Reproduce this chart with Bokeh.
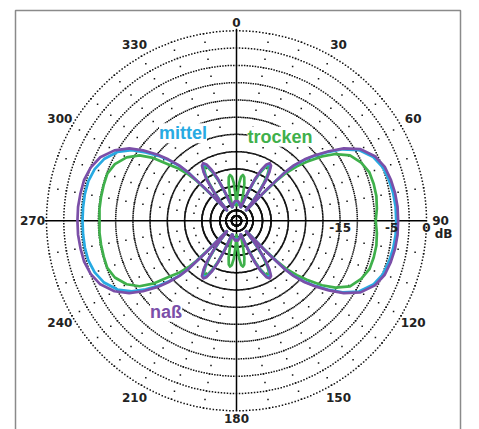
import numpy as np
from bokeh.plotting import figure
from bokeh.models import Range1d, ColumnDataSource, Label
from bokeh.core.properties import value
from bokeh.embed import file_html
from bokeh.resources import INLINE

# ---------------- data ----------------
# angle off the vertical (0/180) axis, one quadrant, degrees
PHI = [0, 2, 4, 6, 8, 10, 12, 14, 16, 18, 20, 22, 24, 26, 28, 30, 32, 34, 36, 38,
       40, 42, 43, 44, 45, 46, 48, 50, 53, 56, 60, 65, 70, 75, 80, 85, 90]

# naß (wet ground) – right half / left half, dB
nass_right = [-57, -56, -56, -57, -58, -59, -60, -62, -64, -64, -55, -44, -35, -30, -27, -26, -26.5, -29, -33, -40,
              -50, -64, -64, -36, -25, -21.5, -18, -15.5, -12.3, -9.5, -7.0, -5.4, -4.6, -4.3, -4.1, -4.0, -4.0]
nass_left = [-57, -56, -56, -57, -58, -59, -60, -62, -64, -64, -55, -44, -35, -30, -27, -26, -26.5, -29, -33, -40,
             -50, -64, -64, -36, -25, -21.5, -18, -15.2, -12.0, -9.5, -7.4, -5.8, -5.0, -4.6, -4.5, -4.4, -4.4]
# mittel (medium ground)
mittel_right = [-58, -57, -57, -58, -59, -60, -61, -63, -64, -64, -56, -45, -35.5, -30.5, -27.5, -26.5, -27, -29.5, -33.5, -40.5,
                -51, -64, -64, -37, -25.5, -22, -18.4, -15.8, -12.6, -9.8, -7.3, -5.7, -4.9, -4.6, -4.4, -4.3, -4.3]
mittel_left = [-58, -57, -57, -58, -59, -60, -61, -63, -64, -64, -56, -45, -35.5, -30.5, -27.5, -26.5, -27, -29.5, -33.5, -40.5,
               -51, -64, -64, -37, -25.5, -22, -18.5, -15.8, -12.7, -10.1, -8.0, -6.5, -5.7, -5.3, -5.2, -5.2, -5.2]
# trocken (dry ground)
trocken_right = [-64, -50, -40, -36, -35, -36, -40, -48, -60, -64, -56, -46, -37, -31.5, -28.5, -27.5, -28, -30.5, -35, -42,
                 -52, -64, -64, -40, -30, -25, -21, -18, -14.2, -11.5, -9.2, -8.0, -7.3, -7.2, -7.2, -7.4, -7.7]
trocken_left = [-64, -50, -40, -36, -35, -36, -40, -48, -60, -64, -56, -46, -37, -31.5, -28.5, -27.5, -28, -30.5, -35, -42,
                -52, -64, -64, -40, -30, -26, -22, -19.5, -14.8, -12.0, -10.0, -8.6, -8.0, -8.0, -8.0, -8.0, -8.1]

SERIES = ["trocken", "mittel", "naß"]
ANGLE_TICKS = [0, 30, 60, 90, 120, 150, 180, 210, 240, 270, 300, 330]
DB_TICKS = [0, -5, -15]
DB_TICK_LABELS = ["0", "-5", "-15"]

# ---------------- layout ----------------
W, H = 479, 429
CXP, CYP = 236.0, 220.3          # centre in the picture
R = 190.0                          # radius of the 0 dB ring (px)
DB_SCALE = 57.0                    # log radial scale: r = R * 10**(dB/57)
COLORS = {"trocken": "#3fb04b", "mittel": "#27aae2", "naß": "#7b4fa8"}

def rad(db):
    return R * 10 ** (np.asarray(db, dtype=float) / DB_SCALE)

x0 = -CXP
y1 = CYP
p = figure(width=W, height=H, x_range=Range1d(x0, x0 + W), y_range=Range1d(y1 - H, y1),
           output_backend="svg", toolbar_location=None, min_border=0,
           x_axis_type=None, y_axis_type=None)
p.grid.visible = False
p.outline_line_color = None
p.background_fill_color = "white"
p.border_fill_color = "white"

# frame
p.line([-221, -221, 224, 224], [-240, 210.3, 210.3, -240], line_color="#8a8a8a", line_width=1.5)

# rings drawn as dots every degree
RING_FRAC = [0.026, 0.055, 0.087, 0.137, 0.182, 0.273, 0.364, 0.455, 0.545,
             0.636, 0.727, 0.818, 0.909, 1.0]
deg = np.deg2rad(np.arange(0, 360, 1.0))
rx, ry = [], []
for f in RING_FRAC:
    rx.extend(f * R * np.sin(deg)); ry.extend(f * R * np.cos(deg))
p.scatter(rx, ry, marker="square", size=1.5, fill_color="#111111", line_color=None)

# dotted spokes every 10 degrees
sx, sy = [], []
for a in range(10, 360, 10):
    if a % 90 == 0:
        continue
    t = np.deg2rad(a)
    for j in range(3, 23):
        r = j * R / 22
        sx.append(r * np.sin(t)); sy.append(r * np.cos(t))
p.scatter(sx, sy, marker="square", size=1.5, fill_color="#111111", line_color=None)

# main axes
p.line([-R - 2, R], [0, 0], line_color="black", line_width=1.5)
p.line([0, 0], [-R, R + 2], line_color="black", line_width=1.5)

# curves
def full_curve(right, left):
    th, db = [], []
    for a, v in zip(PHI, right):
        th.append(a); db.append(v)
    for a, v in zip(PHI[::-1], right[::-1]):
        th.append(180 - a); db.append(v)
    for a, v in zip(PHI, left):
        th.append(180 + a); db.append(v)
    for a, v in zip(PHI[::-1], left[::-1]):
        th.append(360 - a); db.append(v)
    t = np.deg2rad(th)
    r = rad(db)
    return r * np.sin(t), r * np.cos(t)

data = {"trocken": (trocken_right, trocken_left),
        "mittel": (mittel_right, mittel_left),
        "naß": (nass_right, nass_left)}
for name in SERIES:
    x, y = full_curve(*data[name])
    p.line(x, y, line_color=COLORS[name], line_width=2.7, line_join="round")

# series names (white box hides the grid behind them)
NAME_POS = {"mittel": (-53.5, 87.5), "trocken": (43.5, 84.0), "naß": (-70.5, -91.0)}
for name in SERIES:
    px_, py_ = NAME_POS[name]
    p.add_layout(Label(x=px_, y=py_, text=name, text_font="Liberation Sans",
                       text_font_style="bold", text_font_size="18px", text_color=COLORS[name],
                       text_align="center", text_baseline="alphabetic",
                       background_fill_color="white"))

# angle labels
lx, ly, lt = [], [], []
for a in ANGLE_TICKS:
    rr = R + (8 if a % 180 == 0 else 14)
    t = np.deg2rad(a)
    lx.append(rr * np.sin(t)); ly.append(rr * np.cos(t)); lt.append(str(a))
p.text(x="x", y="y", text="t", source=ColumnDataSource(dict(x=lx, y=ly, t=lt)),
       text_font=value("DejaVu Sans"), text_font_style="bold", text_font_size="12px",
       text_color="#222222", text_align="center", text_baseline="middle")

# dB ring labels
p.text(x=list(rad(DB_TICKS)), y=[-7] * len(DB_TICKS), text=DB_TICK_LABELS,
       text_font=value("DejaVu Sans"), text_font_style="bold", text_font_size="12px",
       text_color="#222222", text_align="center", text_baseline="middle")
p.text(x=[207], y=[-13], text=["dB"],
       text_font=value("DejaVu Sans"), text_font_style="bold", text_font_size="12px",
       text_color="#222222", text_align="center", text_baseline="middle")

open("out.html", "w").write(file_html(p, INLINE))
